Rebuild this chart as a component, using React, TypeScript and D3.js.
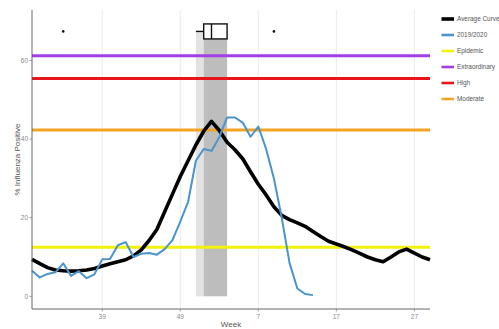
import React from 'react';
import * as d3 from 'd3';

// season weeks (week 30 of one year through week 29 of the next)
const weeks = [
  30, 31, 32, 33, 34, 35, 36, 37, 38, 39, 40, 41, 42, 43, 44, 45, 46, 47, 48, 49, 50, 51, 52,
  1, 2, 3, 4, 5, 6, 7, 8, 9, 10, 11, 12, 13, 14, 15, 16, 17, 18, 19, 20, 21, 22, 23, 24, 25, 26, 27, 28, 29,
];

const averageCurve = [
  9.4, 8.3, 7.3, 6.7, 6.5, 6.4, 6.5, 6.7, 7.1, 7.7, 8.3, 8.8, 9.3, 10.3, 11.8, 14.2, 17, 21.5, 26, 30.5,
  34.5, 38.5, 42, 44.5, 42.2, 39.2, 37.3, 35, 31.7, 28.5, 25.8, 22.8, 20.6, 19.5, 18.7, 17.8, 16.5, 15.2,
  14, 13.3, 12.6, 11.8, 10.9, 10, 9.3, 8.8, 10, 11.3, 12, 11, 10, 9.3,
];

const season2019 = [
  6.5, 4.8, 5.7, 6.1, 8.4, 5.2, 6.4, 4.6, 5.6, 9.4, 9.5, 13, 13.8, 10, 10.8, 11, 10.6, 12, 14.3, 19,
  24, 34.5, 37.5, 37, 40.5, 45.5, 45.5, 44.2, 40.6, 43.2, 37.5, 30, 20, 8.5, 2, 0.6, 0.3,
];

const thresholdNames = ['Epidemic', 'Extraordinary', 'High', 'Moderate'];
const thresholdValues = [12.5, 61.2, 55.4, 42.3];

// peak week spread: low whisker, q1, median, q3 (upper whisker = q3)
const peakBox = [51, 52, 1, 3];
const peakOutliers = [34, 9];

const xTickWeeks = [39, 49, 7, 17, 27];
const yTicks = [0, 20, 40, 60];

const legendNames = ['Average Curve', '2019/2020', ...thresholdNames];

const colors: Record<string, string> = {
  'Average Curve': '#000000',
  '2019/2020': '#4a93cc',
  Epidemic: '#f2f20c',
  Extraordinary: '#a33ee6',
  High: '#e8131b',
  Moderate: '#f4a425',
};

export default function App() {
  const W = 499;
  const H = 329;
  const left = 32;
  const right = 430;
  const top = 10;
  const bottom = 309;

  const x = d3.scaleLinear().domain([0, weeks.length - 1]).range([left, right]);
  const y = d3.scaleLinear().domain([-3.23, 72.85]).range([bottom, top]);
  const xw = (w: number) => x(weeks.indexOf(w));

  const line = d3
    .line<number>()
    .x((_, i) => x(i))
    .y((d) => y(d));

  const boxY = y(67.4);
  const boxH = 15;
  const shadeTop = y(67.4);
  const [lo, q1, med, q3] = peakBox.map(xw);

  const font = "'Liberation Sans', Arial, sans-serif";

  return (
    <svg
      width={W}
      height={H}
      style={{ position: 'absolute', left: 0, top: 0, background: '#fff' }}
      fontFamily={font}
    >
      {/* grid */}
      {xTickWeeks.map((w) => (
        <line key={w} x1={xw(w)} x2={xw(w)} y1={top} y2={bottom} stroke="#e6e6e6" strokeWidth={0.8} />
      ))}

      {/* peak week shading */}
      <rect x={lo} y={shadeTop} width={q1 - lo} height={y(0) - shadeTop} fill="#e2e2e2" />
      <rect x={q1} y={shadeTop} width={q3 - q1} height={y(0) - shadeTop} fill="#bdbdbd" />

      {/* thresholds */}
      {thresholdNames.map((n, i) => (
        <line
          key={n}
          x1={left}
          x2={right}
          y1={y(thresholdValues[i])}
          y2={y(thresholdValues[i])}
          stroke={colors[n]}
          strokeWidth={3}
        />
      ))}

      {/* curves */}
      <path d={line(averageCurve) || ''} fill="none" stroke={colors['Average Curve']} strokeWidth={3.6} strokeLinejoin="round" />
      <path d={line(season2019) || ''} fill="none" stroke={colors['2019/2020']} strokeWidth={2} strokeLinejoin="round" />

      {/* boxplot of peak week */}
      <line x1={lo} x2={q1} y1={boxY} y2={boxY} stroke="#111" strokeWidth={1.4} />
      <rect x={q1} y={boxY - boxH / 2} width={q3 - q1} height={boxH} fill="#fff" stroke="#111" strokeWidth={1.4} />
      <line x1={med} x2={med} y1={boxY - boxH / 2} y2={boxY + boxH / 2} stroke="#111" strokeWidth={1.4} />
      {peakOutliers.map((w) => (
        <circle key={w} cx={xw(w)} cy={boxY} r={1.3} fill="#111" />
      ))}

      {/* axes */}
      <line x1={left} x2={left} y1={top} y2={bottom} stroke="#555" strokeWidth={0.9} />
      <line x1={left} x2={right} y1={bottom} y2={bottom} stroke="#555" strokeWidth={0.9} />
      {yTicks.map((t) => (
        <g key={t}>
          <line x1={left - 2.5} x2={left} y1={y(t)} y2={y(t)} stroke="#777" strokeWidth={0.7} />
          <text x={left - 4} y={y(t)} dy="0.35em" textAnchor="end" fontSize={6.5} fill="#8a8a8a">
            {t}
          </text>
        </g>
      ))}
      {xTickWeeks.map((w) => (
        <g key={w}>
          <line x1={xw(w)} x2={xw(w)} y1={bottom} y2={bottom + 2.5} stroke="#777" strokeWidth={0.7} />
          <text x={xw(w)} y={bottom + 10} textAnchor="middle" fontSize={6.5} fill="#8a8a8a">
            {w}
          </text>
        </g>
      ))}
      <text x={(left + right) / 2} y={327} textAnchor="middle" fontSize={8} fill="#555">
        Week
      </text>
      <text
        transform={`translate(20, ${(top + bottom) / 2}) rotate(-90)`}
        textAnchor="middle"
        fontSize={8}
        fill="#555"
      >
        % Influenza Positive
      </text>

      {/* legend */}
      {legendNames.map((n, i) => {
        const ly = 19 + i * 16;
        return (
          <g key={n}>
            <line
              x1={441.5}
              x2={454}
              y1={ly}
              y2={ly}
              stroke={colors[n]}
              strokeWidth={i === 0 ? 3.6 : 2.6}
            />
            <text x={457} y={ly} dy="0.35em" fontSize={6.4} fill="#555">
              {n}
            </text>
          </g>
        );
      })}
    </svg>
  );
}
